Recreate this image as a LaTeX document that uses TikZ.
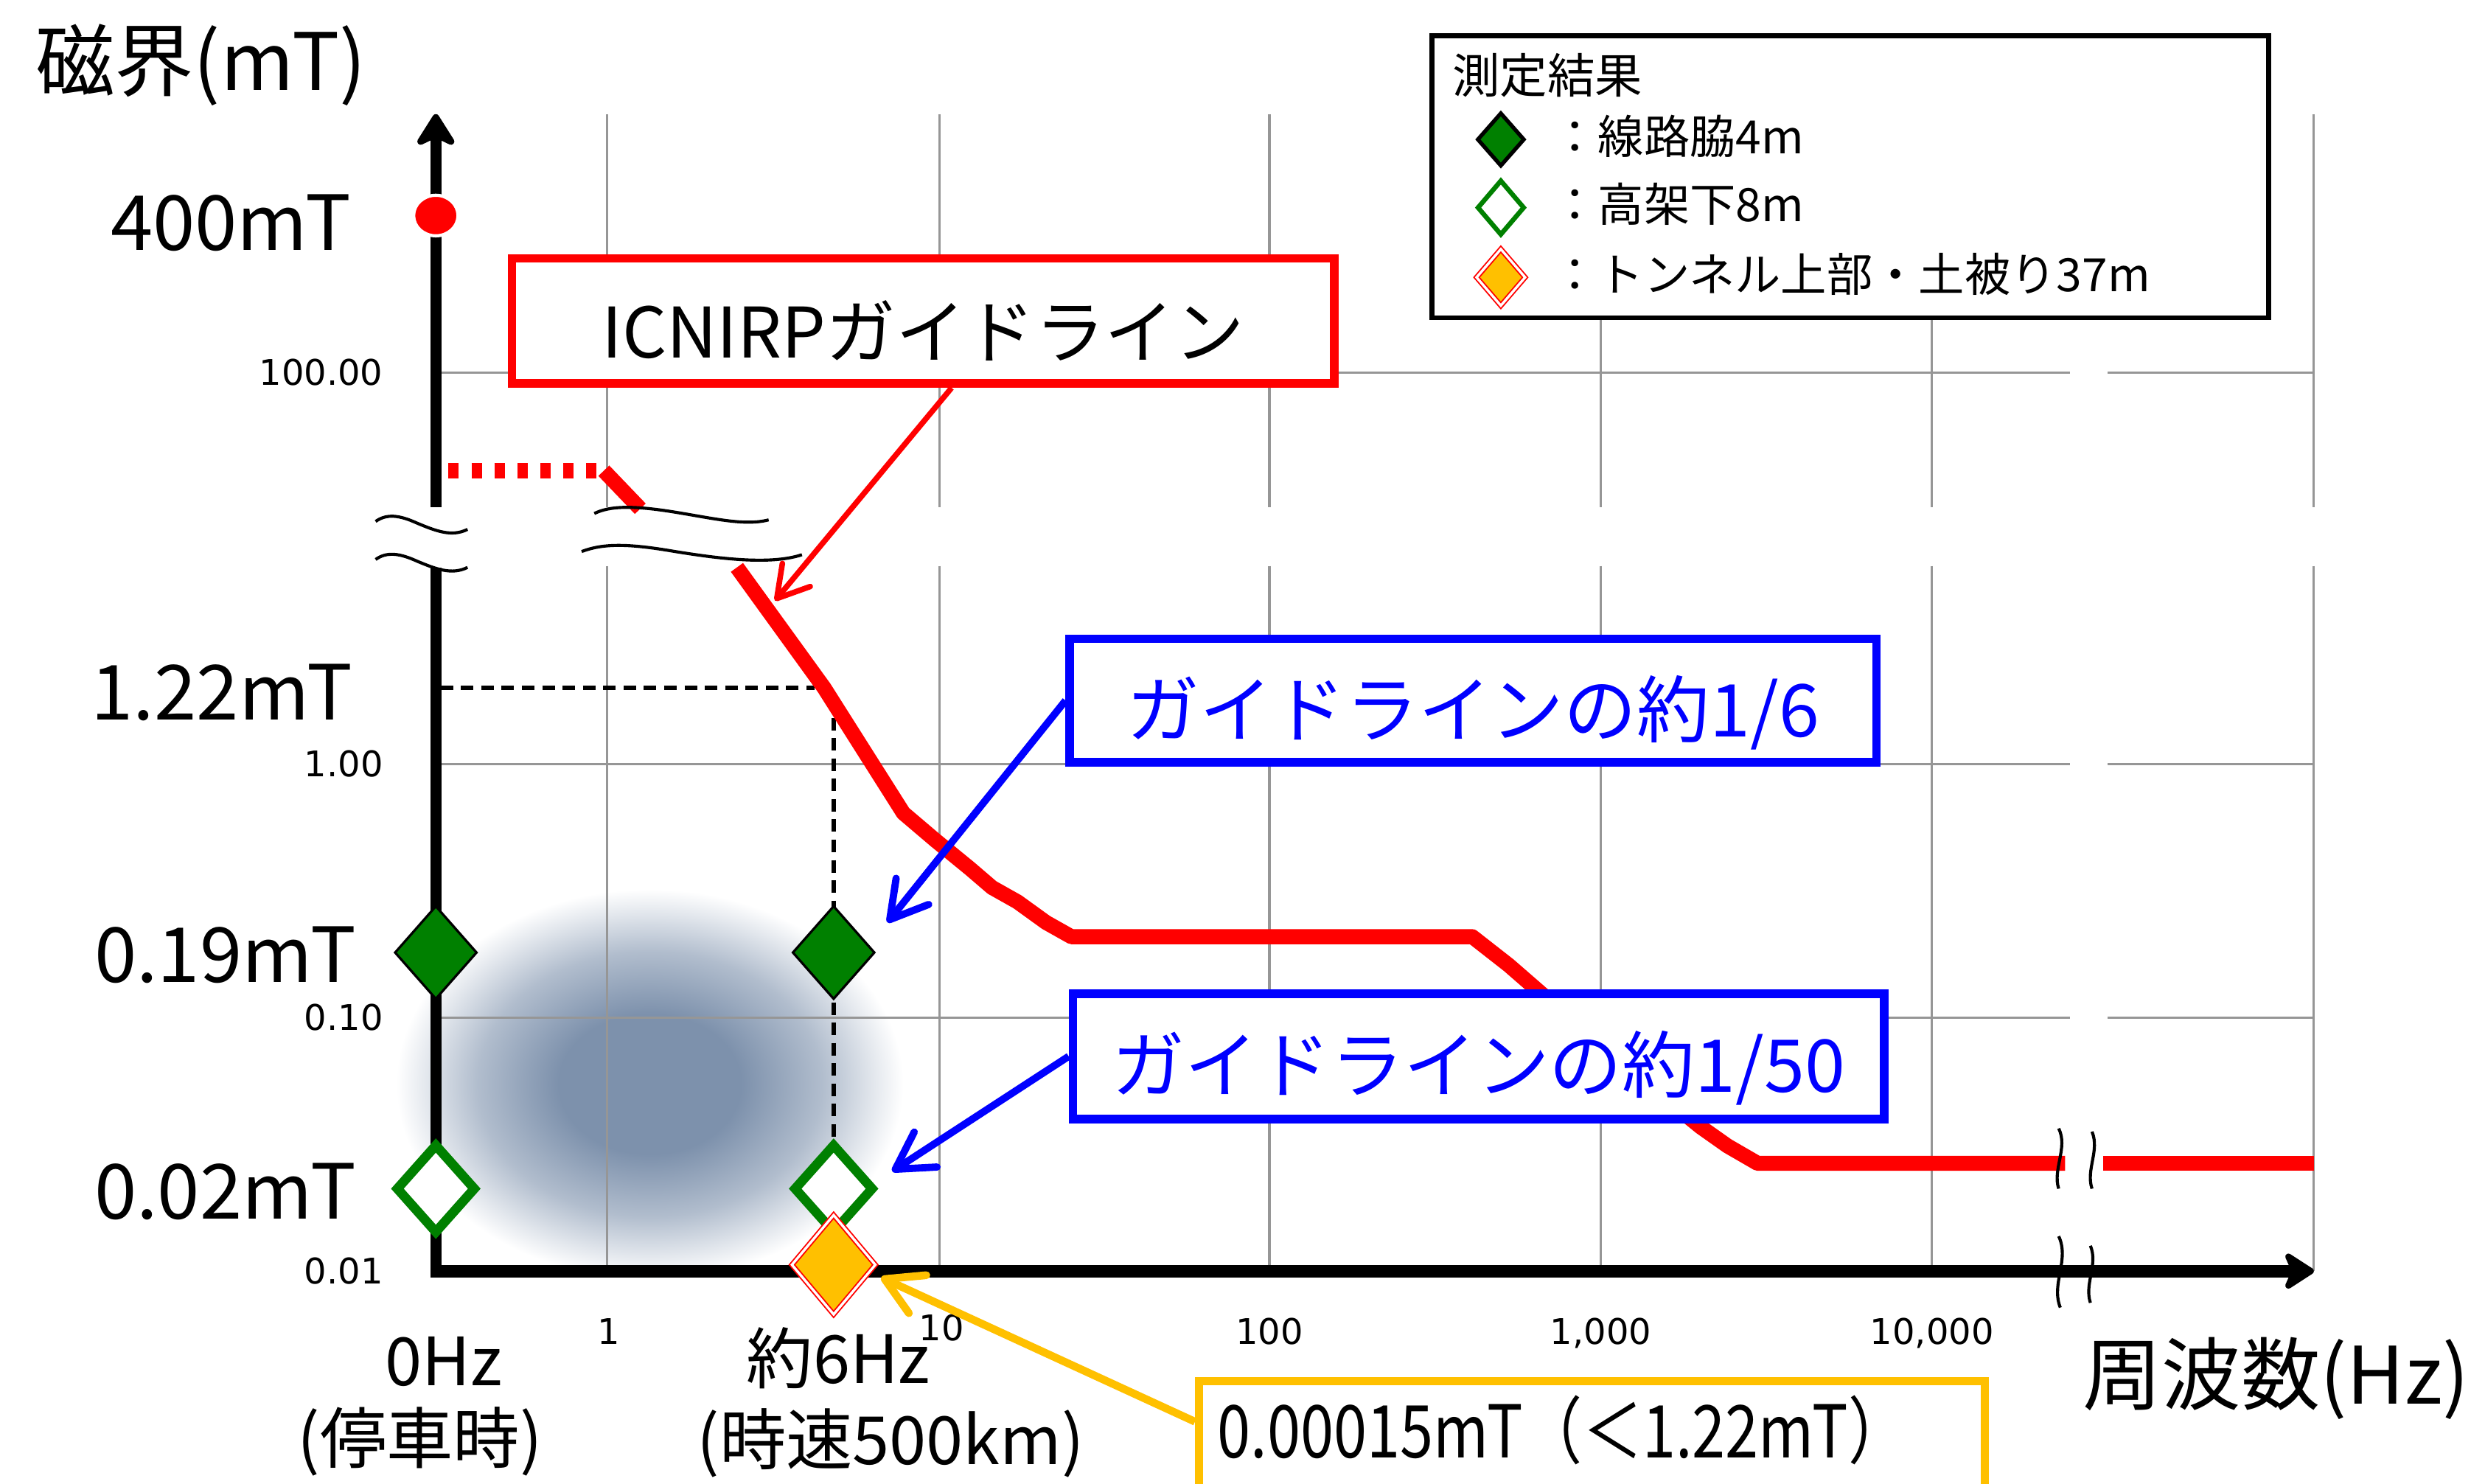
\documentclass[tikz,border=0pt]{standalone}
\usepackage{fontspec}
\setmainfont{Noto Sans CJK JP}
\newfontfamily\tickfont{DejaVu Sans}
\newfontfamily\condfont[FakeStretch=0.82]{Noto Sans CJK JP}
\usetikzlibrary{arrows.meta,shapes.geometric,calc}
\definecolor{gridgray}{RGB}{150,150,150}
\definecolor{dgreen}{RGB}{0,128,0}
\definecolor{mgold}{RGB}{255,192,0}
\definecolor{slate}{RGB}{125,145,172}
\colorlet{slatemid}{slate!60!white}
\colorlet{slatelow}{slate!22!white}
\definecolor{mred}{RGB}{255,0,0}
\definecolor{mblue}{RGB}{0,0,255}
\pgfdeclareradialshading{blurshade}{\pgfpoint{0bp}{0bp}}{color(0bp)=(slate); color(9bp)=(slate); color(17bp)=(slatemid); color(22bp)=(slatelow); color(25bp)=(white); color(50bp)=(white)}
\begin{document}
\begin{tikzpicture}[x=0.02cm,y=-0.02cm,
  gridl/.style={gridgray, line width=0.85pt},
  axisl/.style={black, line width=4pt},
  guide/.style={mred, line width=5.4pt, line join=round},
  brk/.style={black, line width=1.1pt},
  dashl/.style={black, line width=1.7pt, dash pattern=on 4.5pt off 2.8pt},
  tick/.style={font=\tickfont\fontsize{12.69pt}{14pt}\selectfont, inner sep=0pt},
  big/.style={font=\fontsize{27.31pt}{30pt}\selectfont, inner sep=0pt},
  hz/.style={font=\fontsize{23.9pt}{26pt}\selectfont, inner sep=0pt},
  fdiam/.style={diamond, draw=black, fill=dgreen, line width=0.85pt, minimum width=1.04cm, minimum height=1.18cm, inner sep=0pt},
  hdiam/.style={diamond, draw=dgreen, fill=white, line width=3.4pt, minimum width=1.02cm, minimum height=1.14cm, inner sep=0pt},
  odiam/.style={diamond, fill=mgold, draw=mred, double=white, double distance=0.9pt, line width=0.5pt, minimum width=1.06cm, minimum height=1.26cm, inner sep=0pt},
  redbox/.style={draw=mred, fill=white, line width=3.1pt, inner sep=0pt, font=\fontsize{25.04pt}{27pt}\selectfont},
  bluebox/.style={draw=mblue, fill=white, line width=3.1pt, inner sep=0pt, text=mblue, font=\fontsize{26.18pt}{28pt}\selectfont},
  goldbox/.style={draw=mgold, fill=white, line width=2.85pt, inner sep=0pt},
  legbox/.style={draw=black, fill=white, line width=1.7pt, inner sep=0pt},
  legtext/.style={font=\fontsize{16.5pt}{18pt}\selectfont, inner sep=0pt, anchor=base west},
  redarr/.style={mred, line width=2pt, -{Straight Barb[length=11pt,width=13pt,round]}},
  bluearr/.style={mblue, line width=2.6pt, -{Straight Barb[length=13pt,width=15pt,round]}},
  goldarr/.style={mgold, line width=2.8pt, -{Straight Barb[length=13pt,width=15pt,round]}}
]
\clip (0,0) rectangle (1568,936);
\fill[white] (0,0) rectangle (1568,936);

% soft blur
\shade[shading=blurshade] (410,684) ellipse [x radius=3.2cm, y radius=2.46cm];

% grid
\foreach \gx in {383,593,801,1010,1219,1460} {
  \draw[gridl] (\gx,72) -- (\gx,320);
  \draw[gridl] (\gx,357) -- (\gx,802);
}
\foreach \gy in {235,482,642} {
  \draw[gridl] (275,\gy) -- (1306,\gy);
  \draw[gridl] (1330,\gy) -- (1460,\gy);
}

% dashed reference lines
\draw[dashl] (278,434) -- (514,434);
\draw[dashl] (526,440) -- (526,796);

% guideline curve
\draw[guide, dash pattern=on 3.7pt off 4.55pt] (283,297) -- (381,297);
\draw[guide] (381,297) -- (404,321);
\draw[guide] (465,358) -- (520,434) -- (570,513) -- (590,530) -- (612,548) -- (626,560) -- (642,569) -- (660,582) -- (676,591) -- (929,591) -- (952,609) -- (975,629) -- (1000,653) -- (1030,676) -- (1073,711) -- (1090,723) -- (1109,734) -- (1303,734);
\draw[guide] (1327,734) -- (1460,734);

% break marks
\draw[brk] (237,329) .. controls (244,324) and (252,325) .. (263,330) .. controls (275,335) and (285,339) .. (295,334);
\draw[brk] (237,353) .. controls (244,348) and (252,349) .. (263,354) .. controls (275,359) and (285,363) .. (295,358);
\draw[brk] (375,324) .. controls (385,319) and (400,319) .. (425,323) .. controls (450,327) and (470,332) .. (485,328);
\draw[brk] (367,348) .. controls (380,343) and (395,343) .. (420,347) .. controls (450,352) and (485,357) .. (506,350);
\draw[brk] (1299,712) .. controls (1305,724) and (1295,738) .. (1299,750);
\draw[brk] (1320,714) .. controls (1325,726) and (1316,738) .. (1320,750);

% axes
\draw[axisl] (275,806) -- (275,358);
\draw[axisl, -{Stealth[length=13.6pt,width=17pt,inset=4pt,round]}] (275,320) -- (275,72);
\draw[axisl, line width=4.5pt, -{Stealth[length=12.5pt,width=16pt,inset=3.5pt,round]}] (272,802) -- (1460,802);
\draw[brk] (1299,780) .. controls (1306,795) and (1294,810) .. (1300,825);
\draw[brk] (1319,786) .. controls (1324,798) and (1315,810) .. (1319,822);

% 400mT dot
\node[ellipse, fill=mred, draw=white, line width=1.14pt, minimum width=0.56cm, minimum height=0.512cm, inner sep=0pt] (dot) at (275,136) {};

% markers
\node[fdiam] (g1) at (275,601) {};
\node[fdiam] (g2) at (526,601) {};
\node[hdiam] (h1) at (275,750) {};
\node[hdiam] (h2) at (526,750) {};
\node[odiam] (o1) at (526,798) {};

% axis labels
\node[anchor=base west, font=\fontsize{28.45pt}{30pt}\selectfont, inner sep=0pt] (ylab) at (22,57) {磁界(mT)};
\node[anchor=base, font=\fontsize{28.45pt}{30pt}\selectfont, inner sep=0pt] (xlab) at (1436,886) {周波数(Hz)};
\node[big, anchor=base east] (l400) at (222,158) {400mT};
\node[big, anchor=base east] (l122) at (223,454) {1.22mT};
\node[big, anchor=base east] (l019) at (225,620) {0.19mT};
\node[big, anchor=base east] (l002) at (225,769) {0.02mT};

\node[tick, anchor=base east] (t100) at (242,243) {100.00};
\node[tick, anchor=base east] (t1) at (242,490) {1.00};
\node[tick, anchor=base east] (t01) at (242,650) {0.10};
\node[tick, anchor=base east] (t001) at (242,810) {0.01};
\node[tick, anchor=base] (x1) at (384,848) {1};
\node[tick, anchor=base] (x10) at (594,846) {10};
\node[tick, anchor=base] (x100) at (801,848) {100};
\node[tick, anchor=base] (x1000) at (1010,848) {1,000};
\node[tick, anchor=base] (x10000) at (1219,848) {10,000};

\node[hz, anchor=base] (f0) at (280,874) {0Hz};
\node[hz, anchor=base] (f0b) at (265,923) {(停車時)};
\node[hz, anchor=base] (f6) at (529,873) {約6Hz};
\node[hz, anchor=base] (f6b) at (562,924) {(時速500km)};

% callout boxes
\node[redbox, minimum width=10.38cm, minimum height=1.58cm, text height=0.94cm, text depth=0pt] (icnirp) at (582.5,202.5) {ICNIRPガイドライン};
\node[bluebox, minimum width=10.18cm, minimum height=1.56cm, text height=0.92cm, text depth=0pt] (b1) at (929.5,442) {ガイドラインの約1/6};
\node[bluebox, minimum width=10.24cm, minimum height=1.58cm, text height=0.9cm, text depth=0pt] (b2) at (933,666.5) {ガイドラインの約1/50};
\node[goldbox, minimum width=9.92cm, minimum height=1.9cm, anchor=north west] (ob) at (754,869) {};
\node[anchor=base west, font=\condfont\fontsize{26.18pt}{28pt}\selectfont, inner sep=0pt] (otxt) at (768,920) {0.00015mT（＜1.22mT）};

% legend
\node[legbox, minimum width=10.56cm, minimum height=3.56cm, anchor=north west] (leg) at (902,21) {};
\node[anchor=base west, font=\fontsize{17.07pt}{19pt}\selectfont, inner sep=0pt] (legt) at (916,59) {測定結果};
\node[fdiam, minimum width=0.6cm, minimum height=0.68cm, line width=1.4pt] (lg1) at (947,88) {};
\node[hdiam, minimum width=0.6cm, minimum height=0.7cm, line width=1.7pt] (lg2) at (947,131) {};
\node[odiam, minimum width=0.62cm, minimum height=0.72cm] (lg3) at (947,175) {};
\node[legtext] (lr1) at (979,97) {：線路脇4m};
\node[legtext] (lr2) at (979,140) {：高架下8m};
\node[legtext] (lr3) at (979,184) {：トンネル上部・土被り37m};

% arrows
\coordinate (rtip) at (489,379);
\draw[redarr] (icnirp.-67) -- (rtip);
\coordinate (b1tip) at (560,582);
\draw[bluearr] (b1.west) -- (b1tip);
\coordinate (b2tip) at (563,739);
\draw[bluearr] (b2.west) -- (b2tip);
\coordinate (otip) at (556,806);
\draw[goldarr] ($(ob.north west)!0.28!(ob.south west)$) -- (otip);
\end{tikzpicture}
\end{document}
